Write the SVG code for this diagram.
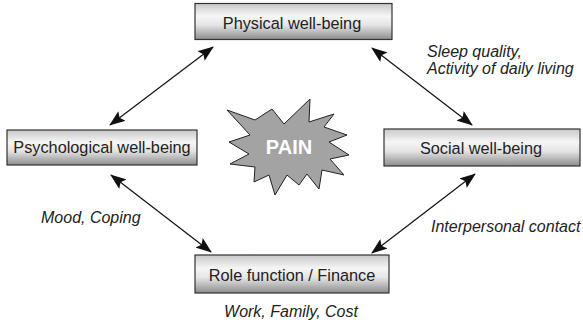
<svg xmlns="http://www.w3.org/2000/svg" width="583" height="323" viewBox="0 0 583 323">
<defs>
<linearGradient id="boxg" x1="0" y1="0" x2="0" y2="1">
<stop offset="0" stop-color="#c8c8c8"/>
<stop offset="0.35" stop-color="#f6f6f6"/>
<stop offset="0.6" stop-color="#e4e4e4"/>
<stop offset="1" stop-color="#8c8c8c"/>
</linearGradient>
<marker id="ah" viewBox="0 0 16 12" refX="15" refY="6" markerWidth="16" markerHeight="12" markerUnits="userSpaceOnUse" orient="auto-start-reverse">
<path d="M0,0 L16,6 L0,12 L3,6 Z" fill="#111"/>
</marker>
</defs>
<style>
.box{fill:url(#boxg);stroke:#333;stroke-width:1.2}
.lbl{font-family:"Liberation Sans",Arial,sans-serif;font-size:16.3px;fill:#222;text-anchor:middle}
.it{font-family:"Liberation Sans",Arial,sans-serif;font-size:16px;font-style:italic;fill:#222}
.con{stroke:#111;stroke-width:1.2;fill:none;marker-start:url(#ah);marker-end:url(#ah)}
</style>
<g id="physical">
<rect class="box" x="195" y="3.5" width="197" height="36"/>
<text class="lbl" x="292" y="29">Physical well-being</text>
</g>
<g id="psychological">
<rect class="box" x="7" y="130" width="190" height="35"/>
<text class="lbl" x="102" y="153">Psychological well-being</text>
</g>
<g id="social">
<rect class="box" x="384" y="129" width="196" height="37"/>
<text class="lbl" x="481" y="154">Social well-being</text>
</g>
<g id="role">
<rect class="box" x="195" y="255" width="194" height="38"/>
<text class="lbl" x="292" y="281">Role function / Finance</text>
</g>
<g id="pain">
<polygon points="227,110 255,120 272,109 284,124 310,99 309,122 334,114 324,127 347,135 329,142 349,155 330,159 344,175 322,170 319,189 307,174 299,185 287,175 275,195 269,175 254,182 255,167 230,164 249,154 229,142 250,135" fill="#a3a3a3" stroke="#222" stroke-width="1"/>
<text x="289" y="154" font-family="Liberation Sans,Arial,sans-serif" font-size="20" font-weight="bold" fill="#fff" text-anchor="middle">PAIN</text>
</g>
<g id="connectors">
<line class="con" x1="213" y1="47" x2="110" y2="125"/>
<line class="con" x1="372" y1="48" x2="472" y2="125"/>
<line class="con" x1="111" y1="175" x2="211" y2="252"/>
<line class="con" x1="475" y1="174" x2="372" y2="253"/>
</g>
<g id="labels">
<text class="it" x="427" y="57">Sleep quality,</text>
<text class="it" x="427" y="74">Activity of daily living</text>
<text class="it" x="41" y="223">Mood, Coping</text>
<text class="it" x="431" y="232">Interpersonal contact</text>
<text class="it" x="291" y="317" text-anchor="middle">Work, Family, Cost</text>
</g>
</svg>
